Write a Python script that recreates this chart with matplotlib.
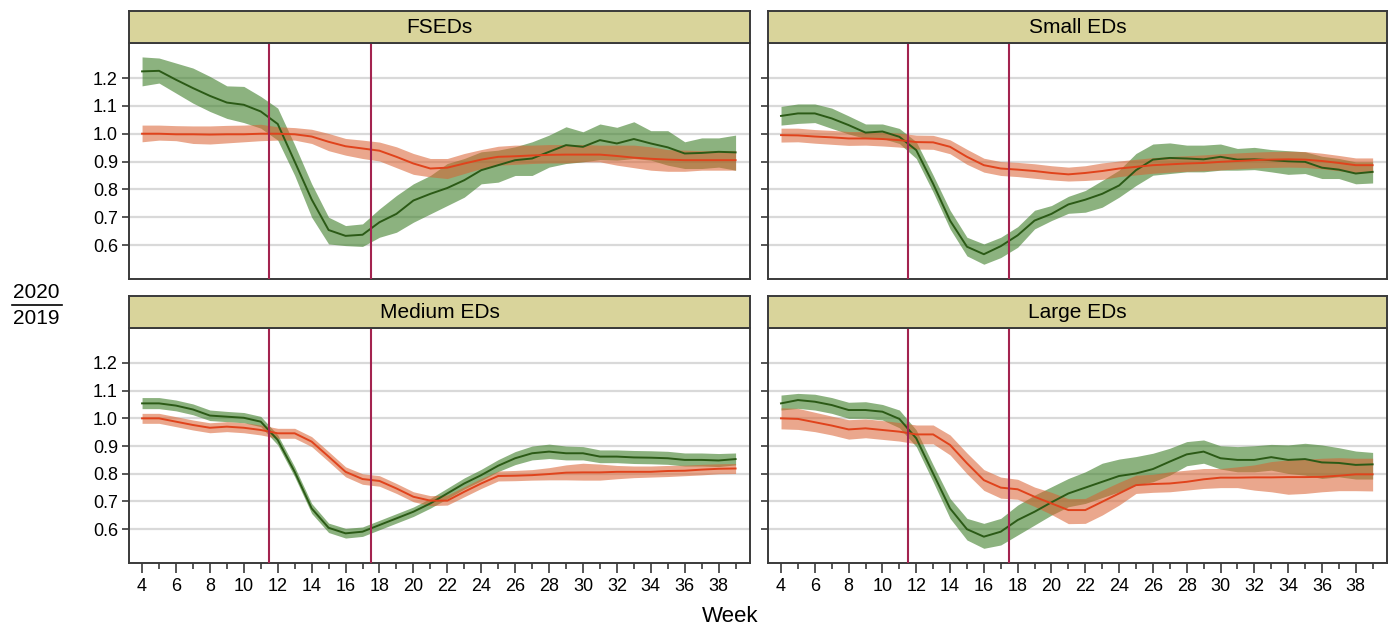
import matplotlib
matplotlib.use("Agg")
import matplotlib.pyplot as plt
from matplotlib import font_manager
from matplotlib.lines import Line2D
from matplotlib.ticker import MultipleLocator, FormatStrFormatter

# pick a narrow sans if there is one
names = {f.name for f in font_manager.fontManager.ttflist}
FONT = "Liberation Sans Narrow" if "Liberation Sans Narrow" in names else "Liberation Sans"
plt.rcParams["font.family"] = [FONT, "DejaVu Sans"]

weeks = list(range(4, 40))
panel_names = ["FSEDs", "Small EDs", "Medium EDs", "Large EDs"]
phase_lines = [11.5, 17.5]

# ---- FSEDs ----
fs_g = [1.224, 1.226, 1.194, 1.164, 1.136, 1.112, 1.104, 1.080, 1.035, 0.900, 0.764, 0.654, 0.633, 0.637, 0.682, 0.712, 0.760, 0.784,
        0.805, 0.833, 0.869, 0.887, 0.905, 0.911, 0.935, 0.959, 0.953, 0.977, 0.965, 0.981, 0.965, 0.951, 0.929, 0.931, 0.935, 0.933]
fs_g_hi = [1.276, 1.272, 1.254, 1.236, 1.206, 1.172, 1.170, 1.134, 1.092, 0.960, 0.820, 0.700, 0.670, 0.676, 0.730, 0.778, 0.820, 0.850,
           0.893, 0.911, 0.935, 0.941, 0.953, 0.971, 0.995, 1.025, 1.007, 1.035, 1.023, 1.043, 1.011, 1.011, 0.971, 0.985, 0.985, 0.995]
fs_g_lo = [1.172, 1.182, 1.146, 1.110, 1.080, 1.055, 1.040, 1.020, 0.977, 0.850, 0.700, 0.604, 0.598, 0.595, 0.628, 0.646, 0.682, 0.712,
           0.742, 0.772, 0.820, 0.826, 0.850, 0.850, 0.880, 0.893, 0.899, 0.907, 0.905, 0.911, 0.905, 0.887, 0.875, 0.875, 0.880, 0.869]
fs_o = [1.000, 1.000, 0.998, 0.998, 0.997, 0.998, 0.998, 1.000, 1.000, 0.998, 0.990, 0.971, 0.955, 0.947, 0.939, 0.917, 0.893, 0.875,
        0.878, 0.893, 0.907, 0.917, 0.919, 0.922, 0.924, 0.925, 0.925, 0.925, 0.920, 0.914, 0.910, 0.907, 0.905, 0.905, 0.905, 0.905]
fs_o_hi = [1.031, 1.031, 1.029, 1.028, 1.028, 1.030, 1.031, 1.034, 1.025, 1.022, 1.016, 1.001, 0.983, 0.977, 0.970, 0.953, 0.929, 0.911,
           0.911, 0.929, 0.943, 0.955, 0.959, 0.959, 0.961, 0.961, 0.961, 0.959, 0.959, 0.959, 0.953, 0.943, 0.941, 0.939, 0.939, 0.939]
fs_o_lo = [0.971, 0.977, 0.975, 0.965, 0.963, 0.967, 0.971, 0.975, 0.977, 0.977, 0.965, 0.939, 0.923, 0.911, 0.902, 0.878, 0.854, 0.845,
           0.839, 0.857, 0.875, 0.887, 0.890, 0.893, 0.895, 0.895, 0.899, 0.899, 0.887, 0.878, 0.869, 0.865, 0.865, 0.869, 0.869, 0.869]

# ---- Small EDs ----
sm_g = [1.064, 1.073, 1.073, 1.055, 1.031, 1.004, 1.008, 0.989, 0.941, 0.820, 0.688, 0.594, 0.567, 0.596, 0.635, 0.688, 0.712, 0.746,
        0.763, 0.784, 0.814, 0.869, 0.907, 0.913, 0.911, 0.908, 0.917, 0.907, 0.908, 0.905, 0.901, 0.899, 0.878, 0.871, 0.857, 0.863]
sm_g_hi = [1.098, 1.107, 1.107, 1.092, 1.064, 1.035, 1.035, 1.019, 0.971, 0.851, 0.725, 0.628, 0.604, 0.628, 0.666, 0.725, 0.742, 0.775,
           0.796, 0.832, 0.869, 0.929, 0.963, 0.967, 0.959, 0.959, 0.963, 0.947, 0.951, 0.943, 0.939, 0.935, 0.919, 0.911, 0.899, 0.899]
sm_g_lo = [1.031, 1.037, 1.040, 1.019, 0.999, 0.983, 0.983, 0.965, 0.911, 0.790, 0.658, 0.561, 0.531, 0.555, 0.592, 0.658, 0.688, 0.714,
           0.718, 0.736, 0.772, 0.814, 0.851, 0.857, 0.863, 0.863, 0.869, 0.869, 0.871, 0.863, 0.854, 0.857, 0.839, 0.839, 0.820, 0.823]
sm_o = [0.995, 0.994, 0.990, 0.987, 0.983, 0.983, 0.981, 0.977, 0.970, 0.969, 0.953, 0.917, 0.887, 0.875, 0.871, 0.866, 0.859, 0.854,
        0.859, 0.866, 0.875, 0.881, 0.887, 0.890, 0.893, 0.895, 0.899, 0.902, 0.905, 0.907, 0.908, 0.907, 0.902, 0.895, 0.887, 0.887]
sm_o_hi = [1.020, 1.020, 1.015, 1.012, 1.008, 1.008, 1.006, 1.002, 0.995, 0.994, 0.978, 0.944, 0.912, 0.900, 0.897, 0.892, 0.885, 0.880,
           0.885, 0.895, 0.902, 0.908, 0.914, 0.918, 0.921, 0.924, 0.928, 0.931, 0.934, 0.936, 0.937, 0.936, 0.930, 0.922, 0.913, 0.913]
sm_o_lo = [0.970, 0.971, 0.966, 0.962, 0.958, 0.959, 0.956, 0.952, 0.945, 0.944, 0.928, 0.890, 0.862, 0.850, 0.846, 0.840, 0.834, 0.830,
           0.832, 0.836, 0.846, 0.852, 0.858, 0.862, 0.865, 0.867, 0.870, 0.874, 0.877, 0.879, 0.880, 0.879, 0.874, 0.867, 0.860, 0.860]

# ---- Medium EDs ----
md_g = [1.054, 1.054, 1.046, 1.032, 1.010, 1.006, 1.002, 0.988, 0.922, 0.807, 0.675, 0.605, 0.585, 0.591, 0.615, 0.639, 0.663, 0.693,
        0.729, 0.765, 0.795, 0.829, 0.856, 0.874, 0.880, 0.874, 0.874, 0.862, 0.862, 0.859, 0.858, 0.856, 0.850, 0.850, 0.848, 0.853]
md_g_hi = [1.075, 1.075, 1.066, 1.052, 1.030, 1.025, 1.021, 1.007, 0.940, 0.825, 0.693, 0.622, 0.603, 0.608, 0.632, 0.656, 0.680, 0.711,
           0.748, 0.785, 0.816, 0.851, 0.880, 0.900, 0.907, 0.900, 0.898, 0.886, 0.886, 0.884, 0.883, 0.881, 0.875, 0.875, 0.873, 0.875]
md_g_lo = [1.035, 1.035, 1.027, 1.013, 0.992, 0.988, 0.984, 0.970, 0.904, 0.789, 0.657, 0.588, 0.568, 0.574, 0.598, 0.622, 0.646, 0.676,
           0.710, 0.745, 0.775, 0.808, 0.833, 0.850, 0.855, 0.850, 0.850, 0.840, 0.840, 0.837, 0.836, 0.834, 0.828, 0.828, 0.826, 0.832]
md_o = [1.000, 1.000, 0.988, 0.976, 0.966, 0.970, 0.966, 0.958, 0.946, 0.946, 0.916, 0.862, 0.807, 0.781, 0.774, 0.747, 0.717, 0.703,
        0.703, 0.735, 0.765, 0.792, 0.793, 0.795, 0.799, 0.804, 0.805, 0.805, 0.807, 0.807, 0.807, 0.810, 0.811, 0.815, 0.818, 0.819]
md_o_hi = [1.018, 1.018, 1.006, 0.994, 0.984, 0.988, 0.984, 0.976, 0.964, 0.964, 0.934, 0.880, 0.825, 0.800, 0.793, 0.765, 0.735, 0.721,
           0.723, 0.753, 0.783, 0.810, 0.812, 0.815, 0.822, 0.832, 0.838, 0.835, 0.830, 0.828, 0.828, 0.830, 0.831, 0.834, 0.836, 0.837]
md_o_lo = [0.982, 0.982, 0.970, 0.958, 0.948, 0.952, 0.948, 0.940, 0.928, 0.928, 0.898, 0.844, 0.789, 0.762, 0.755, 0.729, 0.699, 0.685,
           0.687, 0.717, 0.747, 0.774, 0.775, 0.777, 0.778, 0.778, 0.777, 0.777, 0.782, 0.786, 0.788, 0.790, 0.793, 0.796, 0.800, 0.801]

# ---- Large EDs ----
lg_g = [1.054, 1.066, 1.060, 1.048, 1.030, 1.030, 1.024, 0.998, 0.928, 0.801, 0.675, 0.600, 0.573, 0.591, 0.633, 0.663, 0.697, 0.729,
        0.750, 0.771, 0.792, 0.801, 0.817, 0.844, 0.870, 0.880, 0.856, 0.850, 0.850, 0.860, 0.850, 0.853, 0.841, 0.839, 0.832, 0.834]
lg_g_hi = [1.084, 1.090, 1.087, 1.075, 1.058, 1.060, 1.050, 1.030, 0.958, 0.832, 0.711, 0.639, 0.621, 0.639, 0.687, 0.723, 0.753, 0.783,
           0.807, 0.838, 0.853, 0.862, 0.874, 0.892, 0.916, 0.922, 0.901, 0.898, 0.901, 0.906, 0.904, 0.910, 0.904, 0.894, 0.882, 0.877]
lg_g_lo = [1.030, 1.036, 1.030, 1.018, 1.000, 1.000, 0.994, 0.966, 0.898, 0.771, 0.639, 0.561, 0.531, 0.543, 0.579, 0.615, 0.651, 0.681,
           0.693, 0.714, 0.735, 0.759, 0.771, 0.795, 0.829, 0.838, 0.817, 0.807, 0.807, 0.813, 0.801, 0.795, 0.783, 0.789, 0.781, 0.781]
lg_o = [1.000, 0.998, 0.986, 0.974, 0.960, 0.964, 0.958, 0.952, 0.942, 0.942, 0.904, 0.838, 0.777, 0.750, 0.744, 0.717, 0.693, 0.669,
        0.669, 0.699, 0.729, 0.759, 0.763, 0.765, 0.771, 0.780, 0.786, 0.786, 0.787, 0.787, 0.788, 0.788, 0.789, 0.793, 0.798, 0.798]
lg_o_hi = [1.038, 1.036, 1.022, 1.008, 0.995, 0.998, 0.992, 0.985, 0.976, 0.976, 0.940, 0.875, 0.815, 0.788, 0.780, 0.752, 0.733, 0.710,
           0.711, 0.741, 0.769, 0.795, 0.798, 0.807, 0.813, 0.819, 0.819, 0.825, 0.832, 0.844, 0.850, 0.852, 0.856, 0.858, 0.856, 0.856]
lg_o_lo = [0.962, 0.960, 0.952, 0.940, 0.925, 0.930, 0.924, 0.918, 0.908, 0.908, 0.868, 0.800, 0.740, 0.712, 0.708, 0.682, 0.653, 0.620,
           0.621, 0.651, 0.687, 0.729, 0.733, 0.735, 0.741, 0.747, 0.750, 0.750, 0.741, 0.735, 0.726, 0.729, 0.735, 0.739, 0.739, 0.738]

panels = [
    (fs_g, fs_g_lo, fs_g_hi, fs_o, fs_o_lo, fs_o_hi),
    (sm_g, sm_g_lo, sm_g_hi, sm_o, sm_o_lo, sm_o_hi),
    (md_g, md_g_lo, md_g_hi, md_o, md_o_lo, md_o_hi),
    (lg_g, lg_g_lo, lg_g_hi, lg_o, lg_o_lo, lg_o_hi),
]

W, H = 1396, 630
fig = plt.figure(figsize=(W / 100, H / 100), dpi=100)

# panel boxes in pixels: (left, top, right, bottom)
boxes = [(129, 43, 750, 279), (768, 43, 1387, 279),
         (129, 328, 750, 563), (768, 328, 1387, 563)]
strip_h = 32

GREEN_FILL, GREEN_LINE = "#3f7f2a", "#2b5a16"
ORANGE_FILL, ORANGE_LINE = "#d9602f", "#e0431c"
SPINE = "#3a3a3a"

for i, (name, data, (l, t, r, b)) in enumerate(zip(panel_names, panels, boxes)):
    g, g_lo, g_hi, o, o_lo, o_hi = data
    ax = fig.add_axes([l / W, 1 - b / H, (r - l) / W, (b - t) / H])
    ax.fill_between(weeks, g_lo, g_hi, color=GREEN_FILL, alpha=0.6, lw=0, zorder=2)
    ax.fill_between(weeks, o_lo, o_hi, color=ORANGE_FILL, alpha=0.55, lw=0, zorder=2)
    ax.plot(weeks, g, color=GREEN_LINE, lw=1.4, zorder=3)
    ax.plot(weeks, o, color=ORANGE_LINE, lw=1.4, zorder=3)
    for xv in phase_lines:
        ax.axvline(xv, color="#a3234f", lw=1.5, zorder=4)

    ax.set_xlim(3.23, 39.85)
    ax.set_ylim(0.478, 1.326)
    ax.set_yticks([0.6, 0.7, 0.8, 0.9, 1.0, 1.1, 1.2])
    ax.yaxis.set_major_formatter(FormatStrFormatter("%.1f"))
    ax.grid(axis="y", color="#d9d9d9", lw=1.6, zorder=1)
    ax.set_axisbelow(True)
    for sp in ax.spines.values():
        sp.set_color(SPINE)
        sp.set_linewidth(1.4)
    ax.tick_params(axis="y", direction="out", length=5, width=1.2, color=SPINE,
                   labelsize=13, pad=3, labelleft=(i % 2 == 0))
    if i >= 2:
        ax.xaxis.set_major_locator(MultipleLocator(2))
        ax.xaxis.set_minor_locator(MultipleLocator(1))
        ax.set_xticks(range(4, 40, 2))
        ax.tick_params(axis="x", which="major", direction="out", length=7, width=1.2,
                       color=SPINE, labelsize=13, pad=4)
        ax.tick_params(axis="x", which="minor", direction="out", length=4, width=1.2, color=SPINE)
    else:
        ax.tick_params(axis="x", which="both", bottom=False, labelbottom=False)

    # panel header strip
    sax = fig.add_axes([l / W, 1 - t / H, (r - l) / W, strip_h / H])
    sax.set_facecolor("#d9d49b")
    sax.set_xticks([])
    sax.set_yticks([])
    for sp in sax.spines.values():
        sp.set_color(SPINE)
        sp.set_linewidth(1.4)
    sax.text(0.5, 0.48, name, ha="center", va="center", fontsize=15, transform=sax.transAxes)

fig.text(730 / W, 1 - 617 / H, "Week", ha="center", va="center", fontsize=16)
fig.text(36 / W, 1 - 292 / H, "2020", ha="center", va="center", fontsize=15)
fig.text(36 / W, 1 - 319 / H, "2019", ha="center", va="center", fontsize=15)
fig.add_artist(Line2D([12 / W, 62 / W], [1 - 305 / H, 1 - 305 / H], color="black", lw=1.2))

fig.savefig("out.png", dpi=100)
